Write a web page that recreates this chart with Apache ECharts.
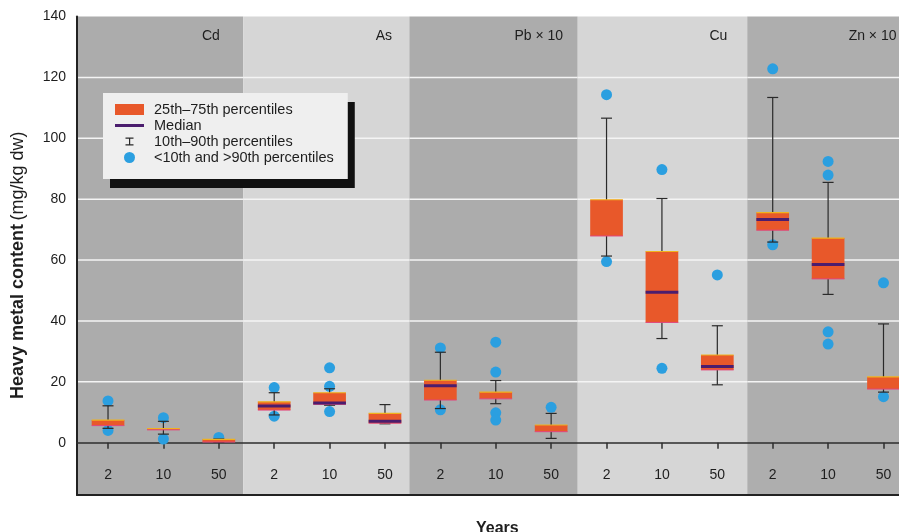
<!DOCTYPE html>
<html>
<head>
<meta charset="utf-8">
<script src="https://cdn.jsdelivr.net/npm/echarts@6/dist/echarts.min.js"></script>
<style>
  html, body { margin: 0; padding: 0; background: #ffffff; }
  #chart { width: 899px; height: 532px; }
</style>
</head>
<body>
<div id="chart"></div>
<script>
// ---- data ----
const categories = ['2', '10', '50', '2', '10', '50', '2', '10', '50', '2', '10', '50', '2', '10', '50'];
const groups = ['Cd', 'As', 'Pb × 10', 'Cu', 'Zn × 10'];
const p10    = [4.7, 2.8, 0.1, 9.1, 12.3, 6.2, 11.2, 12.8, 1.4, 61.3, 34.2, 19.0, 65.9, 48.7, 16.6];
const q1     = [5.6, 4.2, 0.2, 10.7, 12.6, 6.4, 14.0, 14.4, 3.6, 67.9, 39.5, 23.9, 69.8, 53.8, 17.6];
const median = [null, null, null, 12.0, 13.0, 7.0, 18.7, null, null, null, 49.4, 25.0, 73.3, 58.5, null];
const q3     = [7.4, 4.6, 1.1, 13.4, 16.4, 9.6, 20.5, 16.6, 5.8, 79.8, 62.8, 28.8, 75.6, 67.2, 21.6];
const p90    = [12.1, 7.0, 1.2, 16.4, 17.7, 12.5, 29.7, 20.4, 9.6, 106.6, 80.2, 38.4, 113.4, 85.5, 39.0];
const outliers = [
  [13.7, 4.0], [8.2, 1.2], [1.7],
  [18.1, 8.7], [24.6, 18.5, 10.2], [],
  [31.1, 10.8], [33.0, 23.2, 9.8, 7.4], [11.6],
  [114.3, 59.5], [89.7, 24.4], [55.1],
  [122.8, 65.0], [92.4, 87.9, 36.4, 32.4], [52.5, 15.1]
];
const yTicks = [0, 20, 40, 60, 80, 100, 120, 140];
const gridValues = [20, 40, 60, 80, 100, 120];

// ---- layout / style constants ----
const X_MIN = -0.56, X_MAX = 14.28, Y_MIN = -17.2, Y_MAX = 140;
const bandEdges = [X_MIN, 2.44, 5.44, 8.48, 11.54, X_MAX];
const bandColors = ['#acacac', '#d6d6d6', '#acacac', '#d6d6d6', '#aeaeae'];
const labelDx = [1, 7, 12, 10, 13];
const FONT = "'Liberation Sans', Arial, sans-serif";
const TXT = '#1e1e1e';

// ---- build series data ----
const idx = categories.map((c, i) => i);
const bandData = groups.map((g, k) => [bandEdges[k], bandEdges[k + 1], k]);
const whiskerData = idx.map(i => [i, p10[i], p90[i]]);
const boxData = idx.map(i => [i, q1[i], q3[i]]);
const medianData = idx.filter(i => median[i] != null).map(i => [i, median[i]]);
const outlierData = [];
idx.forEach(i => outliers[i].forEach(v => outlierData.push([i, v])));

function renderBand(params, api) {
  const s = api.value(0), e = api.value(1), k = api.value(2);
  const tl = api.coord([s, Y_MAX]);
  const br = api.coord([e, Y_MIN]);
  const children = [{
    type: 'rect',
    shape: { x: tl[0], y: tl[1], width: br[0] - tl[0], height: br[1] - tl[1] },
    style: { fill: bandColors[k] }
  }];
  gridValues.forEach(v => {
    const a = api.coord([s, v]), b = api.coord([e, v]);
    children.push({ type: 'line', shape: { x1: a[0], y1: a[1], x2: b[0], y2: b[1] },
      style: { stroke: '#f4f4f4', lineWidth: 1.5 } });
  });
  const lp = api.coord([k * 3 + 2, Y_MAX]);
  children.push({
    type: 'text',
    style: { text: groups[k], x: Math.min(lp[0] + labelDx[k], br[0] - 2), y: lp[1] + 20,
      align: 'right', verticalAlign: 'middle', fill: TXT, font: '14px ' + FONT }
  });
  return { type: 'group', children };
}

function renderWhisker(params, api) {
  const x = api.value(0);
  const lo = api.coord([x, api.value(1)]);
  const hi = api.coord([x, api.value(2)]);
  const hw = 5.5;
  const st = { stroke: '#2a2a2a', lineWidth: 1.2 };
  return { type: 'group', children: [
    { type: 'line', shape: { x1: lo[0], y1: lo[1], x2: hi[0], y2: hi[1] }, style: st },
    { type: 'line', shape: { x1: lo[0] - hw, y1: lo[1], x2: lo[0] + hw, y2: lo[1] }, style: st },
    { type: 'line', shape: { x1: hi[0] - hw, y1: hi[1], x2: hi[0] + hw, y2: hi[1] }, style: st }
  ]};
}

function renderBox(params, api) {
  const x = api.value(0);
  const top = api.coord([x, api.value(2)]);
  const bot = api.coord([x, api.value(1)]);
  const w = api.size([1, 0])[0] * 0.59;
  const x0 = top[0] - w / 2;
  return { type: 'group', children: [
    { type: 'rect', shape: { x: x0, y: top[1], width: w, height: Math.max(bot[1] - top[1], 0.8) },
      style: { fill: '#e8582a' } },
    { type: 'line', shape: { x1: x0, y1: top[1], x2: x0 + w, y2: top[1] },
      style: { stroke: '#f0b21e', lineWidth: 1.2 } },
    { type: 'line', shape: { x1: x0, y1: bot[1], x2: x0 + w, y2: bot[1] },
      style: { stroke: '#e2457a', lineWidth: 1 } }
  ]};
}

function renderMedian(params, api) {
  const x = api.value(0);
  const p = api.coord([x, api.value(1)]);
  const w = api.size([1, 0])[0] * 0.59;
  return { type: 'line', shape: { x1: p[0] - w / 2, y1: p[1], x2: p[0] + w / 2, y2: p[1] },
    style: { stroke: '#4b1d6e', lineWidth: 3 } };
}

const chart = echarts.init(document.getElementById('chart'), null, { renderer: 'canvas' });
chart.setOption({
  animation: false,
  backgroundColor: '#ffffff',
  textStyle: { fontFamily: FONT },
  title: {
    text: 'Years', left: 471, top: 516,
    textStyle: { fontSize: 16, fontWeight: 'bold', color: TXT, fontFamily: FONT }
  },
  grid: { left: 77, right: 0, top: 16.5, bottom: 37, containLabel: false, outerBoundsMode: 'none' },
  xAxis: [{
    type: 'value', min: X_MIN, max: X_MAX,
    axisLine: { show: true, onZero: true, lineStyle: { color: '#2e2e2e', width: 1.5 } },
    axisTick: { show: true, customValues: idx, length: 6, lineStyle: { color: '#2e2e2e', width: 1.5 } },
    axisLabel: { show: false },
    splitLine: { show: false }
  }, {
    type: 'value', min: X_MIN, max: X_MAX, position: 'bottom',
    axisLine: { show: true, onZero: false, lineStyle: { color: '#222', width: 2 } },
    axisTick: { show: false },
    axisLabel: { show: true, customValues: idx, formatter: v => categories[Math.round(v)],
      margin: -27, fontSize: 14, color: TXT, fontFamily: FONT },
    splitLine: { show: false }
  }],
  yAxis: {
    type: 'value', min: Y_MIN, max: Y_MAX,
    name: '{b|Heavy metal content} {r|(mg/kg dw)}',
    nameLocation: 'middle', nameGap: 50,
    nameTextStyle: {
      padding: [0, 19, 0, 0],
      rich: {
        b: { fontSize: 18, fontWeight: 'bold', color: TXT, fontFamily: FONT },
        r: { fontSize: 18, color: TXT, fontFamily: FONT }
      }
    },
    axisLine: { show: true, onZero: false, lineStyle: { color: '#222', width: 2 } },
    axisTick: { show: false },
    axisLabel: { customValues: yTicks, margin: 11, fontSize: 14, color: TXT, fontFamily: FONT },
    splitLine: { show: false }
  },
  legend: {
    data: [
      { name: '25th–75th percentiles', icon: 'rect', itemStyle: { color: '#e8582a' } },
      { name: 'Median', icon: 'path://M0,0M29,11M0,4h29v3h-29z', itemStyle: { color: '#4b1d6e' } },
      { name: '10th–90th percentiles',
        icon: 'path://M0,0M29,11M10.5,1.5h8v1.2h-8zM14,1.5h1.2v8h-1.2zM10.5,8.3h8v1.2h-8z',
        itemStyle: { color: '#2a2a2a' } },
      { name: '<10th and >90th percentiles', icon: 'circle', itemStyle: { color: '#2b9fe0' } }
    ],
    orient: 'vertical', left: 103, top: 93,
    itemWidth: 29, itemHeight: 11, itemGap: 1,
    padding: [9, 14, 14, 12],
    backgroundColor: '#efefef',
    shadowColor: '#111111', shadowBlur: 0, shadowOffsetX: 7, shadowOffsetY: 9,
    selectedMode: false,
    textStyle: { fontSize: 14.5, color: TXT, fontFamily: FONT, padding: [0, 0, 0, 5] }
  },
  series: [
    { type: 'custom', name: 'bands', renderItem: renderBand, data: bandData, z: 0, silent: true,
      encode: { x: [0, 1], y: -1 } },
    { type: 'scatter', name: '<10th and >90th percentiles', data: outlierData, symbolSize: 11,
      itemStyle: { color: '#2b9fe0', opacity: 1 }, z: 1, silent: true },
    { type: 'custom', name: '10th–90th percentiles', renderItem: renderWhisker, data: whiskerData, z: 2,
      encode: { x: 0, y: [1, 2] }, silent: true },
    { type: 'custom', name: '25th–75th percentiles', renderItem: renderBox, data: boxData, z: 3,
      encode: { x: 0, y: [1, 2] }, silent: true },
    { type: 'custom', name: 'Median', renderItem: renderMedian, data: medianData, z: 4,
      encode: { x: 0, y: 1 }, silent: true }
  ]
});
</script>
</body>
</html>
